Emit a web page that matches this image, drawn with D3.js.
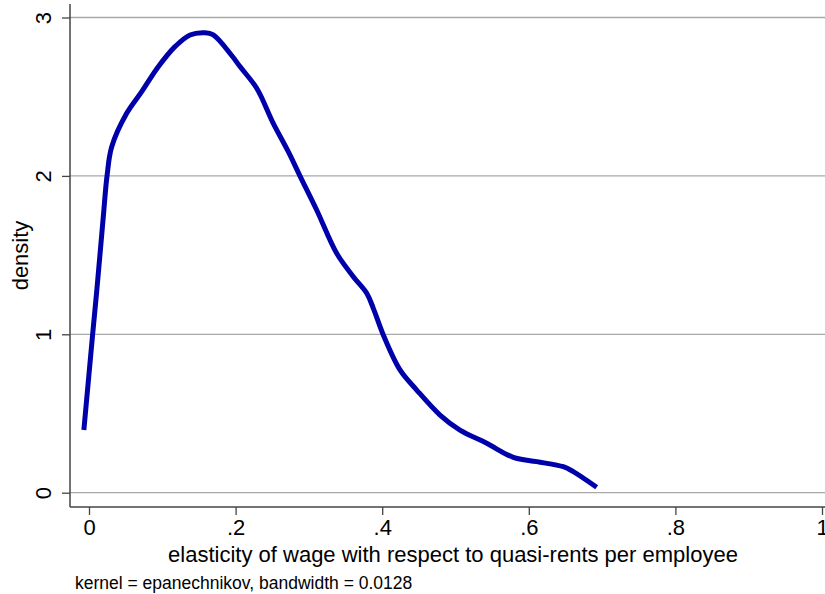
<!DOCTYPE html>
<html>
<head>
<meta charset="utf-8">
<script src="https://cdn.jsdelivr.net/npm/d3@7"></script>
<style>
  html, body { margin: 0; padding: 0; background: #fff; }
  svg { display: block; font-family: "Liberation Sans", Arial, Helvetica, sans-serif; }
</style>
</head>
<body>
<svg id="chart" width="825" height="594"></svg>
<script>
// Kernel density estimate: evaluation points and density values
const elasticity = [-0.007, 0.005, 0.0105, 0.0195, 0.0246, 0.031, 0.0514, 0.0719, 0.0945,
  0.1173, 0.1378, 0.1583, 0.1696, 0.1947, 0.206, 0.2288, 0.2514, 0.2719, 0.2879,
  0.3106, 0.3379, 0.3606, 0.3789, 0.3879, 0.4015, 0.4243, 0.4471, 0.4789, 0.5061,
  0.5426, 0.5789, 0.6108, 0.6471, 0.6607, 0.6926];
const density = [0.396, 1.002, 1.27, 1.742, 2.0, 2.184, 2.395, 2.532, 2.689,
  2.816, 2.89, 2.904, 2.89, 2.76, 2.69, 2.553, 2.332, 2.153, 1.999,
  1.785, 1.511, 1.364, 1.259, 1.164, 0.996, 0.775, 0.648, 0.49, 0.395,
  0.312, 0.223, 0.196, 0.164, 0.133, 0.034];

const xTicks = [0, 0.2, 0.4, 0.6, 0.8, 1];
const xTickLabels = ["0", ".2", ".4", ".6", ".8", "1"];
const yTicks = [0, 1, 2, 3];
const yTickLabels = ["0", "1", "2", "3"];

const xTitle = "elasticity of wage with respect to quasi-rents per employee";
const yTitle = "density";
const note = "kernel = epanechnikov, bandwidth = 0.0128";

const svg = d3.select("#chart");
const plot = { left: 70, right: 825, top: 4, bottom: 507 };

const x = d3.scaleLinear().domain([0, 1]).range([89, 822]);
const y = d3.scaleLinear().domain([0, 3]).range([492.7, 17.5]);

// horizontal gridlines
svg.append("g")
  .selectAll("line")
  .data(yTicks)
  .join("line")
  .attr("x1", plot.left)
  .attr("x2", plot.right)
  .attr("y1", d => y(d))
  .attr("y2", d => y(d))
  .attr("stroke", "#a8a8a8")
  .attr("stroke-width", 1.3);

// y axis
const yAxis = d3.axisLeft(y)
  .tickValues(yTicks)
  .tickFormat((d, i) => yTickLabels[i])
  .tickSize(8)
  .tickPadding(0);
const gy = svg.append("g").attr("transform", `translate(${plot.left},0)`).call(yAxis);
gy.select(".domain").remove();
gy.selectAll(".tick line").attr("stroke", "#444").attr("stroke-width", 1.3);
gy.selectAll(".tick text")
  .attr("font-size", 22)
  .attr("fill", "#000")
  .attr("text-anchor", "middle")
  .attr("dy", null)
  .attr("x", null)
  .attr("transform", "translate(-19,0) rotate(-90)");
svg.append("line")
  .attr("x1", plot.left).attr("x2", plot.left)
  .attr("y1", plot.top).attr("y2", plot.bottom)
  .attr("stroke", "#444").attr("stroke-width", 1.5);

// x axis
const xAxis = d3.axisBottom(x)
  .tickValues(xTicks)
  .tickFormat((d, i) => xTickLabels[i])
  .tickSize(8)
  .tickPadding(4);
const gx = svg.append("g").attr("transform", `translate(0,${plot.bottom})`).call(xAxis);
gx.select(".domain").remove();
gx.selectAll(".tick line").attr("stroke", "#444").attr("stroke-width", 1.3);
gx.selectAll(".tick text").attr("font-size", 22).attr("fill", "#000");
svg.append("line")
  .attr("x1", plot.left).attr("x2", plot.right)
  .attr("y1", plot.bottom).attr("y2", plot.bottom)
  .attr("stroke", "#444").attr("stroke-width", 1.5);

// density curve
const pts = elasticity.map((e, i) => [e, density[i]]);
const line = d3.line()
  .x(d => x(d[0]))
  .y(d => y(d[1]))
  .curve(d3.curveCatmullRom.alpha(0.5));
svg.append("path")
  .datum(pts)
  .attr("d", line)
  .attr("fill", "none")
  .attr("stroke", "#0000aa")
  .attr("stroke-width", 5)
  .attr("stroke-linejoin", "round");

// titles
svg.append("text")
  .attr("x", 453)
  .attr("y", 562)
  .attr("text-anchor", "middle")
  .attr("font-size", 22)
  .text(xTitle);

svg.append("text")
  .attr("transform", `translate(28,${(plot.top + plot.bottom) / 2}) rotate(-90)`)
  .attr("text-anchor", "middle")
  .attr("font-size", 22)
  .text(yTitle);

svg.append("text")
  .attr("x", 75)
  .attr("y", 589)
  .attr("font-size", 17.5)
  .text(note);
</script>
</body>
</html>
